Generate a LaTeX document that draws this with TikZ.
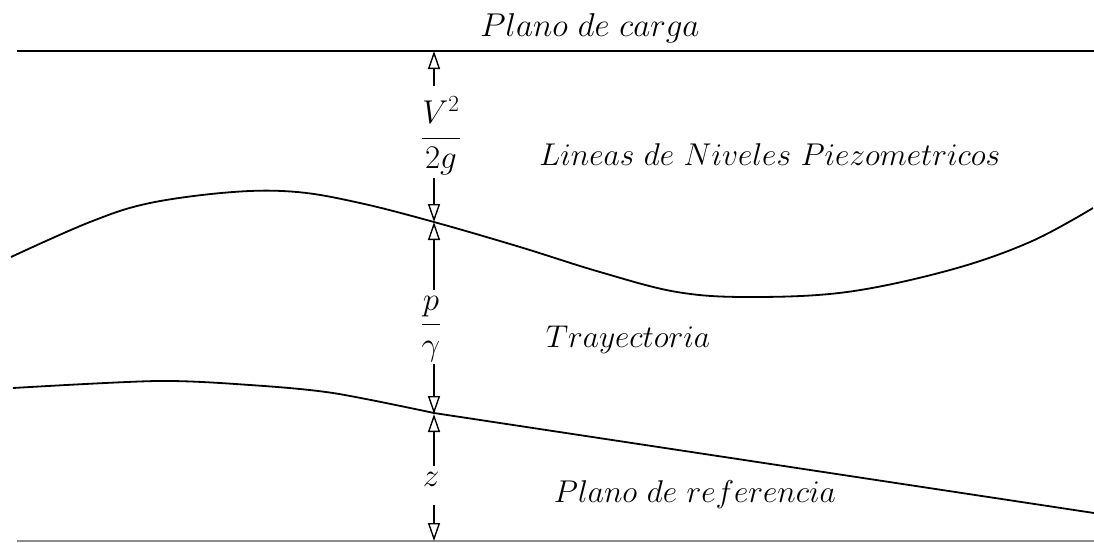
\RequirePackage{fix-cm}
\documentclass[tikz,border=0pt]{standalone}
\usetikzlibrary{arrows.meta}
\begin{document}
\begin{tikzpicture}[x=1pt,y=-1pt,
  dimarrow/.style={line width=1.6pt,-{Triangle[open,length=18pt,width=12pt,line width=1.4pt]}},
  curve/.style={line width=1.8pt},
  plane/.style={line width=2.2pt},
  lbl/.style={inner sep=0pt,font=\fontsize{33}{36}\selectfont},
  lbls/.style={inner sep=0pt,font=\fontsize{31.5}{34}\selectfont}]
\useasboundingbox (0,0) rectangle (1094,542);
% planes
\coordinate (topL) at (17,51);
\coordinate (topR) at (1094,51);
\coordinate (botL) at (17,541);
\coordinate (botR) at (1094,541);
\draw[plane] (topL) -- (topR);
\draw[plane,black!45] (botL) -- (botR);
% crossing points
\coordinate (ctop) at (434,51);
\coordinate (cpz) at (434,222);
\coordinate (ctr) at (434,414);
\coordinate (cbot) at (434,541);
% piezometric line
\draw[curve] plot[smooth,tension=0.6] coordinates {(11,257) (90,222) (150,203) (233,192) (297,192) (360,203) (434,222) (520,247) (600,272) (677,292) (750,297) (847,292) (950,270) (1030,242) (1093,208)};
% trajectory
\draw[curve] plot[smooth,tension=0.5] coordinates {(13,388) (157,381) (250,385) (333,393) (434,413)};
\draw[curve] (434,413) -- (1094,513);
% dimension arrows
\coordinate (a1) at (434,86);
\coordinate (a2) at (434,178);
\coordinate (a3) at (434,290);
\coordinate (a4) at (434,364);
\coordinate (a5) at (434,466);
\coordinate (a6) at (434,505);
\draw[dimarrow] (a1) -- (ctop);
\draw[dimarrow] (a2) -- (cpz);
\draw[dimarrow] (a3) -- (cpz);
\draw[dimarrow] (a4) -- (ctr);
\draw[dimarrow] (a5) -- (ctr);
\draw[dimarrow] (a6) -- (cbot);
% labels
\node[lbl] (lcarga) at (590,28) {$Plano\ de\ carga$};
\node[lbl] (lv) at (441,136) {$\displaystyle\frac{V^2}{2g}$};
\node[lbls] (lpiezo) at (770,155) {$Lineas\ de\ Niveles\ Piezometricos$};
\node[lbl] (lp) at (431,329) {$\displaystyle\frac{p}{\gamma}$};
\node[lbls] (ltray) at (628,340) {$Trayectoria$};
\node[lbl] (lz) at (431,479) {$z$};
\node[lbls] (lref) at (695,495) {$Plano\ de\ referencia$};
\end{tikzpicture}
\end{document}
